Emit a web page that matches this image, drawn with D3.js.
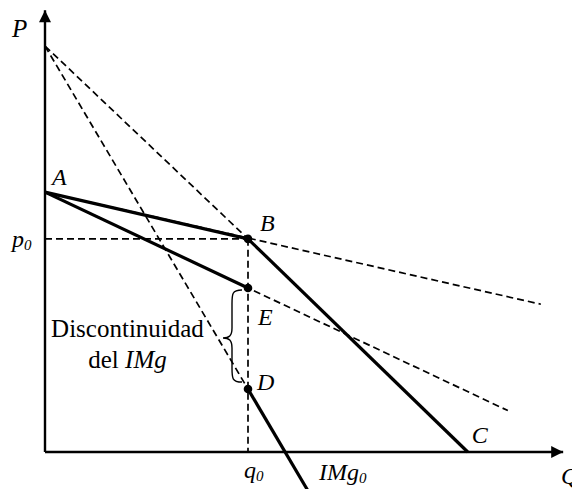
<!DOCTYPE html>
<html>
<head>
<meta charset="utf-8">
<script src="https://cdn.jsdelivr.net/npm/d3@7/dist/d3.min.js"></script>
<style>
  html, body { margin: 0; padding: 0; background: #fff; }
  svg { display: block; }
  text { font-family: "Liberation Serif", "Times New Roman", serif; fill: #000; }
</style>
</head>
<body>
<svg id="chart" width="572" height="489"></svg>
<script>
// ---- Data (quantity q, price p) ----
const q0 = 4;
const p0 = 5.25;
const pointA = [0, 6.4];
const pointB = [q0, p0];
const pointE = [q0, 4.04];
const pointD = [q0, 1.55];
const pointC = [8.33, 0];
const pointTop = [0, 10];

// thick (solid) curves
const solidLines = [
  [pointA, pointB],             // elastic demand segment
  [pointB, pointC],             // inelastic demand segment
  [pointA, pointE],             // IMg of elastic demand
  [pointD, [5.17, -0.93]]       // IMg0
];
// dashed lines
const dashedLines = [
  [pointA, [9.77, 3.64]],       // elastic demand extended
  [pointA, [9.12, 1.02]],       // its IMg extended
  [pointTop, pointB],           // inelastic demand extended up
  [pointTop, pointD],           // its IMg
  [[0, p0], pointB],            // p0 guide
  [pointB, [q0, 0]]             // q0 guide
];
const dots = [pointB, pointE, pointD];
const pointLabels = [
  {t: "A", at: pointA, dx: 7, dy: -7},
  {t: "B", at: pointB, dx: 12, dy: -8},
  {t: "E", at: pointE, dx: 10, dy: 37},
  {t: "D", at: pointD, dx: 9, dy: 1},
  {t: "C", at: pointC, dx: 4, dy: -9}
];

// ---- Scales ----
const x = d3.scaleLinear().domain([0, 10]).range([45, 552.5]);
const y = d3.scaleLinear().domain([0, 10]).range([452, 46]);

const svg = d3.select("#chart");
const line = d3.line().x(d => x(d[0])).y(d => y(d[1]));

// dashed lines
svg.append("g").selectAll("path").data(dashedLines).join("path")
  .attr("d", line).attr("fill", "none").attr("stroke", "#000")
  .attr("stroke-width", 1.7).attr("stroke-dasharray", "7,4");

// solid lines
svg.append("g").selectAll("path").data(solidLines).join("path")
  .attr("d", line).attr("fill", "none").attr("stroke", "#000")
  .attr("stroke-width", 3.2);

// axes with arrowheads
const defs = svg.append("defs");
defs.append("marker").attr("id", "arrow")
  .attr("viewBox", "0 0 10 10").attr("refX", 10).attr("refY", 5)
  .attr("markerWidth", 14).attr("markerHeight", 12)
  .attr("markerUnits", "userSpaceOnUse").attr("orient", "auto")
  .append("path").attr("d", "M0,0 L10,5 L0,10 Z").attr("fill", "#000");

const xMax = 10.21, yMax = 10.88;
svg.append("path").attr("d", line([[0, 0], [xMax, 0]]))
  .attr("stroke", "#000").attr("stroke-width", 2.4).attr("marker-end", "url(#arrow)");
svg.append("path").attr("d", line([[0, 0], [0, yMax]]))
  .attr("stroke", "#000").attr("stroke-width", 2.4).attr("marker-end", "url(#arrow)");

// dots
svg.append("g").selectAll("circle").data(dots).join("circle")
  .attr("cx", d => x(d[0])).attr("cy", d => y(d[1])).attr("r", 4.3).attr("fill", "#000");

// point labels
svg.append("g").selectAll("text").data(pointLabels).join("text")
  .attr("x", d => x(d.at[0]) + d.dx).attr("y", d => y(d.at[1]) + d.dy)
  .attr("font-size", 24).attr("font-style", "italic").text(d => d.t);

// axis labels
svg.append("text").attr("x", 12).attr("y", 37).attr("font-size", 25)
  .attr("font-style", "italic").text("P");
svg.append("text").attr("x", 561).attr("y", 484).attr("font-size", 24)
  .attr("font-style", "italic").text("Q");

// p0 label
const tp = svg.append("text").attr("x", 12).attr("y", y(p0) + 8)
  .attr("font-size", 24).attr("font-style", "italic");
tp.append("tspan").text("p");
tp.append("tspan").attr("font-size", 15).attr("dy", 3).text("0");

// q0 label
const tq = svg.append("text").attr("x", x(q0) - 4).attr("y", 478)
  .attr("font-size", 24).attr("font-style", "italic");
tq.append("tspan").text("q");
tq.append("tspan").attr("font-size", 15).attr("dy", 3).text("0");

// IMg0 label
const ti = svg.append("text").attr("x", 319).attr("y", 480)
  .attr("font-size", 24).attr("font-style", "italic");
ti.append("tspan").text("IMg");
ti.append("tspan").attr("font-size", 15).attr("dy", 3).text("0");

// Discontinuidad del IMg
svg.append("text").attr("x", 127.5).attr("y", 337).attr("font-size", 25)
  .attr("text-anchor", "middle").text("Discontinuidad");
const td = svg.append("text").attr("x", 127.5).attr("y", 368).attr("font-size", 25)
  .attr("text-anchor", "middle");
td.append("tspan").text("del ");
td.append("tspan").attr("font-style", "italic").text("IMg");

// curly brace between E and D
const bTop = y(pointE[1]) + 2, bBot = y(pointD[1]) - 7;
const bMid = (bTop + bBot) / 2 + 2;
const bx = x(q0) - 6, bc = x(q0) - 16, bTip = x(q0) - 25;
const brace = `M${bx},${bTop} C${bc},${bTop} ${bc},${bTop + 4} ${bc},${bTop + 14}
  L${bc},${bMid - 10} C${bc},${bMid - 2} ${bc - 3},${bMid} ${bTip},${bMid}
  C${bc - 3},${bMid} ${bc},${bMid + 2} ${bc},${bMid + 10}
  L${bc},${bBot - 14} C${bc},${bBot - 4} ${bc},${bBot} ${bx},${bBot}`;
svg.append("path").attr("d", brace).attr("fill", "none")
  .attr("stroke", "#000").attr("stroke-width", 1.4);
</script>
</body>
</html>
